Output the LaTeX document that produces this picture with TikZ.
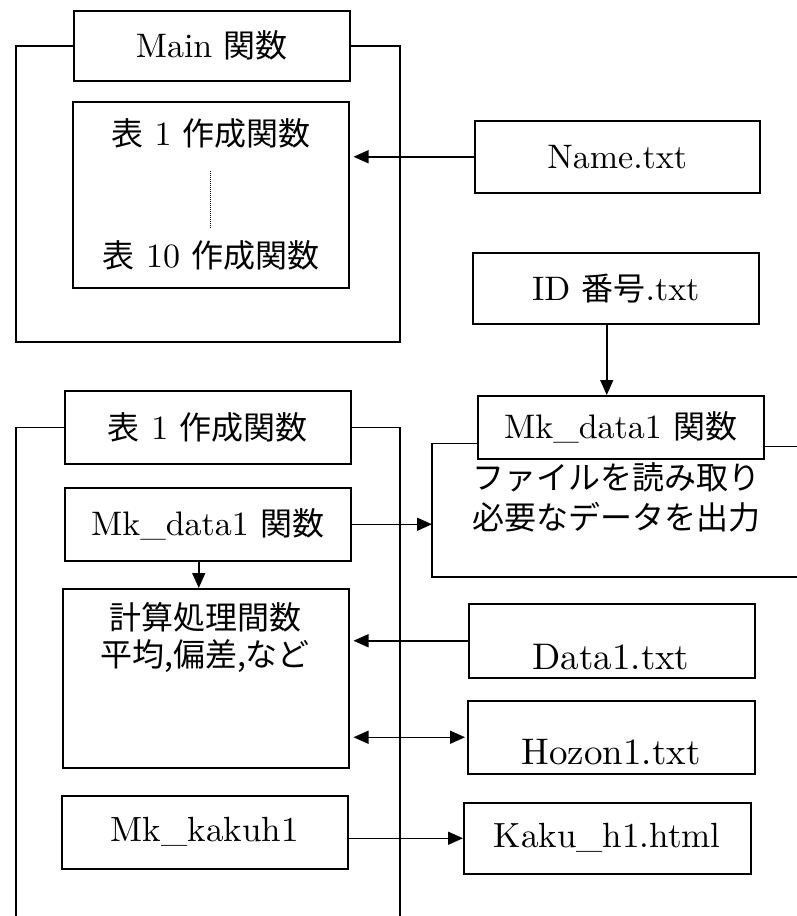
\documentclass[tikz,border=0pt]{standalone}
\usepackage{fontspec}
\setmainfont{lmroman10-regular.otf}
\newfontfamily\jp{Noto Sans CJK JP}
\newcommand\Jtx[1]{{\jp\fontsize{32}{38}\selectfont #1}}
\usetikzlibrary{arrows.meta}
\begin{document}
\begin{tikzpicture}[x=1pt,y=-1pt,
  ln/.style={line width=1.5pt},
  box/.style={draw,ln,inner sep=0pt,anchor=north west},
  txt/.style={inner sep=0pt,font=\fontsize{34}{40}\selectfont},
  ftxt/.style={inner sep=0pt,font=\fontsize{37}{42}\selectfont},
  arr/.style={ln,-{Triangle[length=15pt,width=13pt]}},
  darr/.style={ln,{Triangle[length=15pt,width=13pt]}-{Triangle[length=15pt,width=13pt]}}]
\useasboundingbox (0,0) rectangle (796,916);
% top part
\node[box,minimum width=276pt,minimum height=70pt,txt] (main) at (73,10) {Main \Jtx{関数}};
\node[box,minimum width=276pt,minimum height=186pt] (inner) at (72,101) {};
\node[txt] (t1a) at (211,133) {\Jtx{表} 1 \Jtx{作成関数}};
\node[txt] (t10a) at (211,255) {\Jtx{表} 10 \Jtx{作成関数}};
\coordinate (dotA) at (210,171);
\coordinate (dotB) at (210,228);
\draw[line width=1pt,densely dotted] (dotA) -- (dotB);
\draw[ln] (main.west) -| (16,342) -- (400,342) |- (main.east);
\node[box,minimum width=285pt,minimum height=72pt,txt] (name) at (474,120) {Name.txt};
\draw[arr,shorten >=4pt] (name.west) -- (name.west -| inner.east);
\node[box,minimum width=286pt,minimum height=71pt,txt] (id) at (472,252) {ID \Jtx{番号}.txt};
% right Mk_data1
\node[box,minimum width=286pt,minimum height=63pt,txt] (md2) at (477,395) {Mk\_data1 \Jtx{関数}\hspace{20pt}};
\draw[arr] ([xshift=-9pt]id.south) -- ([xshift=-9pt]id.south |- md2.north);
\coordinate (rfl) at (432,577);
\coordinate (rfr) at (800,577);
\draw[ln] ([yshift=-16pt]md2.west) -| (rfl) -- (rfr);
\draw[ln] ([yshift=-19pt]md2.east) -- ++(40,0);
\node[txt,font=\jp\fontsize{32}{40}\selectfont,align=center] (rtext) at (616,497) {ファイルを読み取り\\必要なデータを出力};
% bottom-left frame
\node[box,minimum width=286pt,minimum height=73pt,txt] (t1) at (64,390) {\Jtx{表} 1 \Jtx{作成関数}};
\draw[ln] (t1.west) -| (16,920);
\draw[ln] (t1.east) -| (400,920);
\node[box,minimum width=286pt,minimum height=73pt,txt] (md1) at (64,487) {Mk\_data1 \Jtx{関数}};
\draw[arr] (md1.east) -- (md1.east -| rfl);
\node[box,minimum width=286pt,minimum height=179pt] (calc) at (62,588) {};
\node[txt,font=\jp\fontsize{32}{37}\selectfont,align=center] (calctext) at (205,638) {計算処理間数\\平均,偏差,など};
\draw[arr] ([xshift=-9pt]md1.south) -- ([xshift=-9pt]md1.south |- calc.north);
\node[box,minimum width=286pt,minimum height=73pt,txt,font=\fontsize{35}{40}\selectfont] (kak) at (61,795) {Mk\_kakuh1};
% right file boxes
\node[box,minimum width=286pt,minimum height=74pt] (data) at (468,603) {};
\node[ftxt] (datatext) at (611,657) {Data1.txt};
\node[box,minimum width=287pt,minimum height=73pt] (hozon) at (467,700) {};
\node[ftxt] (hozontext) at (611,752) {Hozon1.txt};
\node[box,minimum width=287pt,minimum height=71pt,txt,font=\fontsize{35}{40}\selectfont] (kaku) at (463,802) {Kaku\_h1.html};
\draw[arr,shorten >=4pt] (data.west) -- (data.west -| calc.east);
\draw[darr,shorten >=2pt,shorten <=4pt] (hozon.west -| calc.east) -- (hozon.west);
\draw[arr] (kaku.west -| kak.east) -- (kaku.west);
\end{tikzpicture}
\end{document}
